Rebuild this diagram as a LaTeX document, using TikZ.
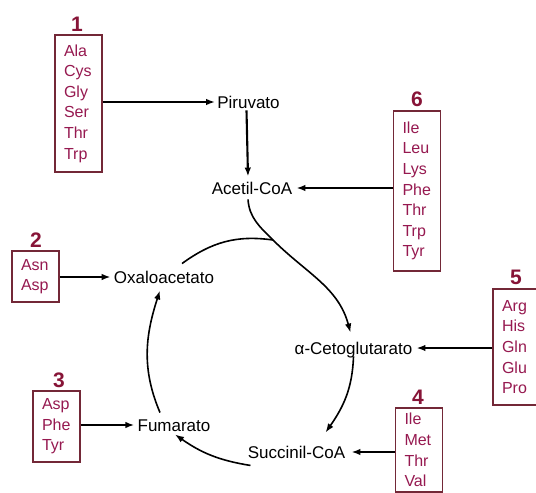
\documentclass[tikz,border=0pt]{standalone}
\usepackage{fontspec}
\setmainfont{Liberation Sans}
\usetikzlibrary{arrows.meta}
\definecolor{aatext}{RGB}{150,25,80}
\definecolor{aanum}{RGB}{135,20,55}
\definecolor{aabox}{RGB}{115,40,55}
\tikzset{
  met/.style={inner sep=2pt, text height=12.5pt, text depth=0pt, font=\fontsize{17}{20}\selectfont},
  aabx/.style={draw=aabox, line width=1.5pt, inner xsep=9pt, inner ysep=0pt, text width=29pt, align=left,
    text=aatext, font=\fontsize{16}{20.6}\selectfont},
  grpnum/.style={text=aanum, font=\bfseries\fontsize{21}{21}\selectfont, inner sep=0pt},
  feed/.style={line width=2.1pt, -{Latex[length=9pt,width=6.5pt]}},
  cyc/.style={line width=1.6pt, -{Latex[length=9pt,width=6.5pt]}},
  cycnt/.style={line width=1.6pt}
}
\begin{document}
\begin{tikzpicture}[x=1pt,y=1pt]
\useasboundingbox (0,0) rectangle (536,-493);
\clip (0,0) rectangle (536,-493);
\fill[white] (0,0) rectangle (536,-493);

% metabolites
\node[met] (piru) at (248.5,-102) {Piruvato};
\node[met] (acet) at (252,-188) {Acetil-CoA};
\node[met] (oxal) at (164,-277) {Oxaloacetato};
\node[met] (aceto) at (353.5,-348) {α-Cetoglutarato};
\node[met] (succ) at (296.5,-452) {Succinil-CoA};
\node[met] (fuma) at (174,-425) {Fumarato};

% amino acid boxes
\node[aabx, minimum height=137pt] (b1) at (78.5,-103.5) {Ala\\Cys\\Gly\\Ser\\Thr\\Trp};
\node[aabx, minimum height=160pt] (b6) at (417,-191) {Ile\\Leu\\Lys\\Phe\\Thr\\Trp\\Tyr};
\node[aabx, minimum height=51pt] (b2) at (35.5,-276.5) {Asn\\Asp};
\node[aabx, minimum height=71pt] (b3) at (56.5,-426.5) {Asp\\Phe\\Tyr};
\node[aabx, minimum height=116pt] (b5) at (516.5,-347) {Arg\\His\\Gln\\Glu\\Pro};
\node[aabx, minimum height=84pt] (b4) at (419,-450) {Ile\\Met\\Thr\\Val};

% group numbers
\node[grpnum] (n1) at (77,-24) {1};
\node[grpnum] (n6) at (417,-99) {6};
\node[grpnum] (n2) at (36,-240) {2};
\node[grpnum] (n3) at (59,-380) {3};
\node[grpnum] (n5) at (516,-277) {5};
\node[grpnum] (n4) at (418,-397) {4};

% feeder arrows
\draw[feed] (b1.east |- piru) -- (piru.west);
\draw[feed] (b6.west |- acet) -- ([xshift=2pt]acet.east);
\draw[feed] (b2.east |- oxal) -- ([xshift=-1pt]oxal.west);
\draw[feed] (b3.east |- fuma) -- ([xshift=-1pt]fuma.west);
\draw[feed] (b5.west |- aceto) -- ([xshift=2pt]aceto.east);
\draw[feed] (b4.west |- succ) -- ([xshift=4pt]succ.east);
\draw[feed] ([xshift=-2pt]piru.south) -- ([xshift=-4pt,yshift=3pt]acet.north);

% cycle
\coordinate (merge) at (273,-240);
\draw[cyc] ([shift={(-4pt,-3pt)}]acet.south) to[out=-86,in=135] (merge)
  to[out=-45,in=105] ([shift={(-3pt,7pt)}]aceto.north);
\draw[cycnt] ([shift={(18pt,5pt)}]oxal.north) to[out=36,in=172] (merge);
\draw[cyc] (aceto.south) to[out=-92,in=55] ([shift={(29pt,11pt)}]succ.north);
\draw[cyc] ([shift={(-46pt,-5pt)}]succ.south) to[out=171,in=-35] ([shift={(1pt,-1pt)}]fuma.south);
\draw[cyc] ([shift={(-14pt,4pt)}]fuma.north) to[out=113,in=-108] ([shift={(-4pt,-5pt)}]oxal.south);
\end{tikzpicture}
\end{document}
